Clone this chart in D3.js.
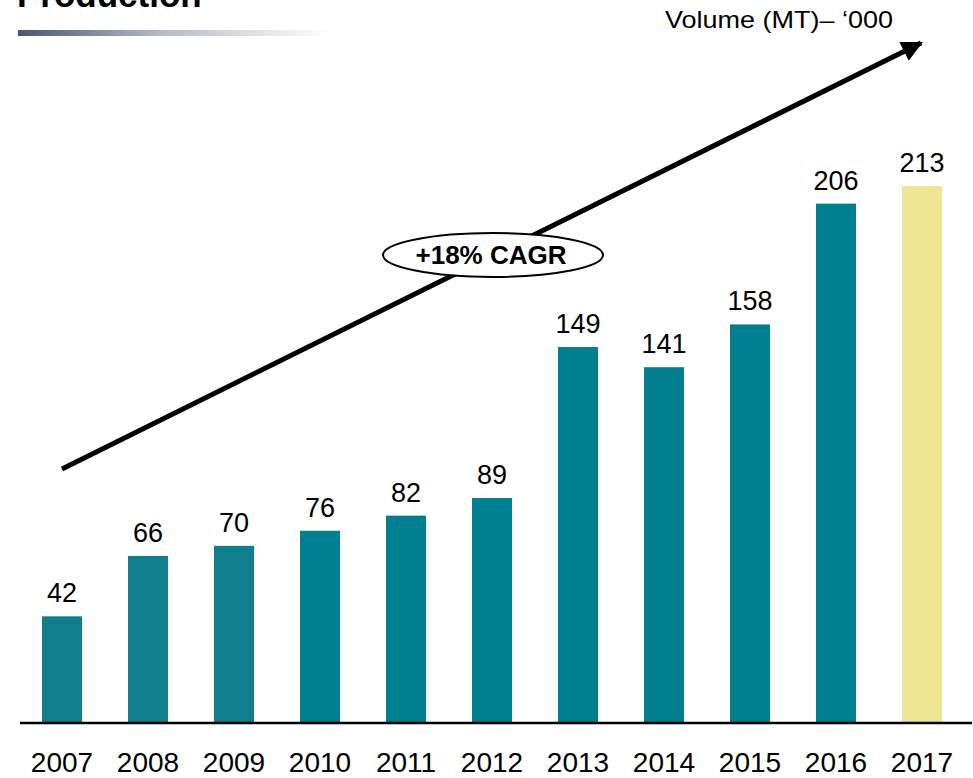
<!DOCTYPE html>
<html>
<head>
<meta charset="utf-8">
<script src="https://cdn.jsdelivr.net/npm/d3@7"></script>
<style>
  html, body { margin: 0; padding: 0; background: #fff; }
  svg { display: block; }
  text { font-family: "Liberation Sans", "DejaVu Sans", sans-serif; }
</style>
</head>
<body>
<svg id="chart" width="973" height="778"></svg>
<script>
const years = ["2007","2008","2009","2010","2011","2012","2013","2014","2015","2016","2017"];
const volumes = [42, 66, 70, 76, 82, 89, 149, 141, 158, 206, 213];
const titleText = "Production";
const unitText = "Volume (MT)\u2013 \u2018000";
const cagrText = "+18% CAGR";

const barColors = { early: "#0f7f8e", main: "#007f91", forecast: "#eee595" };
function colorFor(year, i) {
  if (i === years.length - 1) return barColors.forecast;
  if (i < 3) return barColors.early;
  return barColors.main;
}

const svg = d3.select("#chart");

const x = d3.scaleBand()
  .domain(years)
  .range([19, 965])
  .paddingInner(46 / 86)
  .paddingOuter(23 / 86);

const y = d3.scaleLinear()
  .domain([0, 213])
  .range([722, 186]);

// title (cut off at top, as in the reference)
svg.append("text")
  .attr("x", 17)
  .attr("y", 7)
  .attr("font-size", 35)
  .attr("font-weight", "bold")
  .attr("fill", "#000")
  .text(titleText);

// gradient bar under title
const defs = svg.append("defs");
const grad = defs.append("linearGradient").attr("id", "tgrad").attr("x1", "0%").attr("x2", "100%");
grad.append("stop").attr("offset", "0%").attr("stop-color", "#4a5670");
grad.append("stop").attr("offset", "45%").attr("stop-color", "#b4b9c4");
grad.append("stop").attr("offset", "100%").attr("stop-color", "#ffffff");
svg.append("rect")
  .attr("x", 18).attr("y", 30).attr("width", 312).attr("height", 6)
  .attr("fill", "url(#tgrad)");

// unit label
svg.append("text")
  .attr("x", 665)
  .attr("y", 28)
  .attr("font-size", 24)
  .attr("textLength", 228)
  .attr("lengthAdjust", "spacingAndGlyphs")
  .attr("fill", "#000")
  .text(unitText);

// bars
svg.append("g").selectAll("rect")
  .data(volumes)
  .join("rect")
  .attr("x", (d, i) => x(years[i]))
  .attr("y", d => y(d))
  .attr("width", x.bandwidth())
  .attr("height", d => y(0) - y(d))
  .attr("fill", (d, i) => colorFor(years[i], i));

// value labels
svg.append("g").selectAll("text")
  .data(volumes)
  .join("text")
  .attr("x", (d, i) => x(years[i]) + x.bandwidth() / 2)
  .attr("y", d => y(d) - 14)
  .attr("text-anchor", "middle")
  .attr("font-size", 27)
  .attr("fill", "#000")
  .text(d => d);

// axis
const xAxis = d3.axisBottom(x).tickSize(0).tickPadding(30);
const axisG = svg.append("g")
  .attr("transform", `translate(0, ${y(0)})`)
  .call(xAxis);
axisG.select(".domain").remove();
axisG.selectAll("text")
  .attr("font-size", 28)
  .attr("fill", "#000")
  .attr("font-family", "Liberation Sans, sans-serif")
  .attr("dy", null)
  .attr("y", 50);
svg.append("line")
  .attr("x1", 20).attr("x2", 972)
  .attr("y1", y(0) + 1).attr("y2", y(0) + 1)
  .attr("stroke", "#000").attr("stroke-width", 2.5);

// CAGR arrow
defs.append("marker")
  .attr("id", "ahead")
  .attr("viewBox", "0 0 10 10")
  .attr("refX", 9).attr("refY", 5)
  .attr("markerWidth", 4.6).attr("markerHeight", 4.2)
  .attr("markerUnits", "strokeWidth")
  .attr("orient", "auto")
  .append("path").attr("d", "M0,0 L10,5 L0,10 z").attr("fill", "#000");

svg.append("line")
  .attr("x1", 62).attr("y1", 469)
  .attr("x2", 921).attr("y2", 43)
  .attr("stroke", "#000").attr("stroke-width", 5)
  .attr("marker-end", "url(#ahead)");

// CAGR ellipse
svg.append("ellipse")
  .attr("cx", 493).attr("cy", 255)
  .attr("rx", 110).attr("ry", 22)
  .attr("fill", "#fff").attr("stroke", "#000").attr("stroke-width", 2);
svg.append("text")
  .attr("x", 491).attr("y", 264)
  .attr("text-anchor", "middle")
  .attr("font-size", 26)
  .attr("font-weight", "bold")
  .attr("fill", "#000")
  .text(cagrText);
</script>
</body>
</html>
